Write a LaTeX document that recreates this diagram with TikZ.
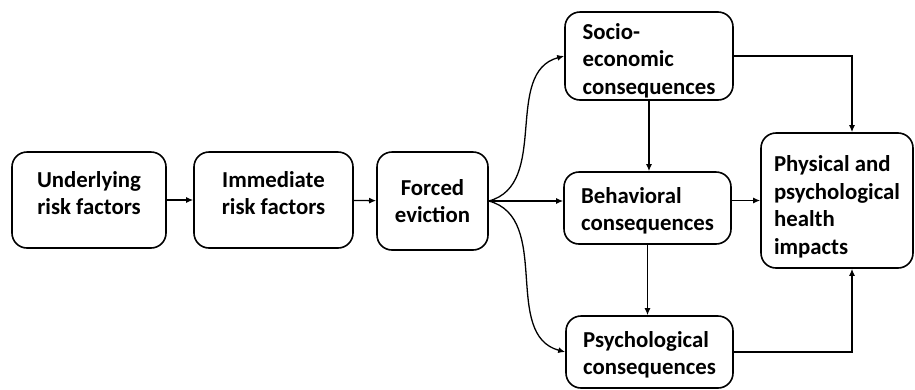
\documentclass[tikz,border=0pt]{standalone}
\usepackage{fontspec}
\setmainfont{Carlito}
\usetikzlibrary{arrows.meta}

\begin{document}
\begin{tikzpicture}[x=1pt,y=-1pt,
  box/.style={draw,line width=1.6pt,rounded corners=15pt,inner sep=0pt,
    font=\fontsize{22.8}{27.5}\selectfont\bfseries},
  cause/.style={box,align=center,minimum height=96pt},
  result/.style={box,align=left},
  link/.style={line width=1.3pt,-{Latex[length=7pt,width=6pt]}}]
  \useasboundingbox (0,0) rectangle (915,389);
  % left chain
  \node[cause,minimum width=154pt,text depth=14pt](under) at (89,200){Underlying\\risk factors};
  \node[cause,minimum width=159pt,text depth=14pt](immed) at (273.5,200){Immediate\\risk factors};
  \node[cause,minimum width=111pt,minimum height=98pt](forced) at (432.5,201){Forced\\eviction};
  % consequences
  \node[result,minimum width=168pt,minimum height=88pt,text height=80pt](socio) at (649,56){Socio-\\economic\\consequences};
  \node[result,minimum width=167pt,minimum height=72pt,text height=49.5pt](behav) at (647.5,208){Behavioral\\consequences};
  \node[result,minimum width=167pt,minimum height=72pt,text height=49.5pt](psych) at (649.5,352){Psychological\\consequences};
  \node[result,minimum width=152pt,minimum height=135pt,text height=111.5pt](health) at (837,200.5){Physical and\\psychological\\health\\impacts};
  % connectors
  \draw[link] (under) -- (immed);
  \draw[link] (immed) -- (forced);
  \draw[link] (forced.east) -- (forced.east -| behav.west);
  \draw[link] (forced.east) to[out=15,in=195] (socio.west);
  \draw[link] (forced.east) to[out=-15,in=165] (psych.west);
  \draw[link] (socio.south) -- (socio.south |- behav.north);
  \draw[link] (behav.south) -- (behav.south |- psych.north);
  \draw[link] (behav.east |- health.west) -- (health.west);
  \draw[link] (socio.east) -| ([xshift=15pt]health.north);
  \draw[link] (psych.east) -| ([xshift=15pt]health.south);
\end{tikzpicture}
\end{document}
